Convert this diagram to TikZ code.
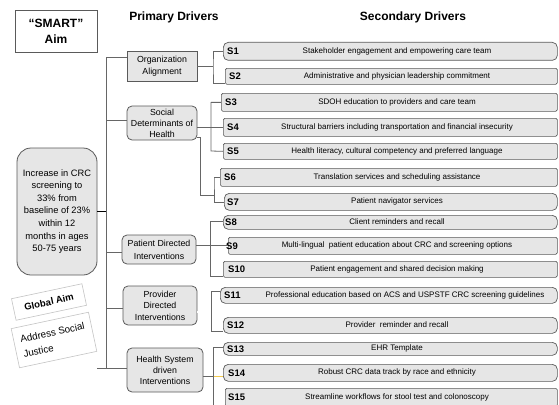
\documentclass[tikz,border=0pt]{standalone}
\usepackage{fontspec}
\setmainfont{Liberation Sans}
\definecolor{boxfill}{HTML}{E6E6E6}
\definecolor{boxline}{HTML}{5A5A5A}
\definecolor{conncol}{HTML}{666666}
\definecolor{lightframe}{HTML}{C4C4C4}
\definecolor{hilite}{HTML}{F2C94C}
\newcommand{\fsz}[2]{\fontsize{#1}{#2}\selectfont}
\newcommand{\secbox}[9]{%
  \pgfmathsetmacro{\sbW}{557-#2}%
  \pgfmathsetmacro{\sbH}{#4-#3}%
  \node[sbox,#7,minimum width=\sbW pt,minimum height=\sbH pt,anchor=north west] (#1) at (#2,#3) {};
  \node[slab] (#1l) at ([xshift=#9pt]#1.west) {#5};
  \node[stxt] (#1t) at (#8,{(#3+#4)/2}) {#6};
}
\begin{document}
\begin{tikzpicture}[x=1pt,y=-1pt,
  conn/.style={draw=conncol, line width=0.8pt},
  pbox/.style={draw=boxline, fill=boxfill, line width=0.8pt, align=center, inner sep=0pt, font=\fsz{8.8}{12.5}},
  sbox/.style={draw=boxline, fill=boxfill, line width=0.7pt, inner sep=0pt},
  rnd/.style={rounded corners=5pt},
  sq/.style={rounded corners=1.5pt},
  slab/.style={font=\bfseries\fsz{9.5}{11}, anchor=west, inner sep=0pt},
  stxt/.style={font=\fsz{8}{10}, inner sep=0pt},
  hdr/.style={font=\bfseries\fsz{12}{14}, inner sep=0pt},
  tilted/.style={draw=lightframe, line width=0.6pt, fill=white, rotate=12},
]
\clip (0,0) rectangle (559,404);
\fill[white] (0,0) rectangle (559,404);

% headers
\node[draw=boxline, line width=0.7pt, minimum width=82pt, minimum height=42pt, align=center, font=\bfseries\fsz{12}{16}] (smart) at (56,31) {“SMART”\\Aim};
\node[hdr] (ph) at (174,17) {Primary Drivers};
\node[hdr] (sh) at (413,17) {Secondary Drivers};

% aim
\node[pbox, rounded corners=14pt, minimum width=80pt, minimum height=127pt, font=\fsz{9.3}{12.6}] (aim) at (57,211.5) {Increase in CRC\\screening to\\33\% from\\baseline of 23\%\\within 12\\months in ages\\50-75 years};

\node[tilted, minimum width=72pt, minimum height=22pt, font=\bfseries\fsz{9.5}{11}] (ga) at (49,302) {Global Aim};
\node[tilted, minimum width=79pt, minimum height=40pt, align=left, font=\fsz{9.8}{15}] (asj) at (54,340) {Address Social\\Justice};

% primary drivers
\node[pbox, minimum width=70pt, minimum height=30pt] (org) at (162,66) {Organization\\Alignment};
\node[pbox, rounded corners=5pt, minimum width=70pt, minimum height=34pt, font=\fsz{8.8}{11}] (sdoh) at (162,123) {Social\\Determinants of\\Health};
\node[pbox, rounded corners=5pt, minimum width=74pt, minimum height=29pt, font=\fsz{8.8}{13}] (pat) at (159,249.5) {Patient Directed\\Interventions};
\node[pbox, rounded corners=5pt, minimum width=74pt, minimum height=39pt, font=\fsz{8.8}{11.5}] (prov) at (160,305.5) {Provider\\Directed\\Interventions};
\node[pbox, rounded corners=5pt, minimum width=76pt, minimum height=44pt, font=\fsz{8.8}{11}] (hs) at (165,370) {Health System\\driven\\Interventions};

% secondary drivers
\secbox{S1}{223}{42}{60}{S1}{Stakeholder engagement and empowering care team}{rnd}{397}{4}
\secbox{S2}{225}{68}{84}{S2}{Administrative and physician leadership commitment}{sq}{397}{4}
\secbox{S3}{221}{93}{111}{S3}{SDOH education to providers and care team}{sq}{397}{4}
\secbox{S4}{223}{118}{136}{S4}{Structural barriers including transportation and financial insecurity}{sq}{397}{4}
\secbox{S5}{223}{143}{159}{S5}{Health literacy, cultural competency and preferred language}{sq}{397}{4}
\secbox{S6}{220}{168}{186}{S6}{Translation services and scheduling assistance}{sq}{397}{4}
\secbox{S7}{224}{193}{210}{S7}{Patient navigator services}{rnd}{397}{3}
\secbox{S8}{223}{215}{229}{S8}{Client reminders and recall}{rnd}{397}{2}
\secbox{S9}{228}{237}{254}{S9}{Multi-lingual\ \ patient education about CRC and screening options}{sq}{397}{-2}
\secbox{S10}{223}{261}{277}{S10}{Patient engagement and shared decision making}{sq}{397}{5}
\secbox{S11}{220}{287}{303}{S11}{Professional education based on ACS and USPSTF CRC screening guidelines}{rnd}{405}{4}
\secbox{S12}{223}{317}{333}{S12}{Provider\ \ reminder and recall}{rnd}{397}{4}
\secbox{S13}{223}{342}{355}{S13}{EHR Template}{rnd}{397}{4}
\secbox{S14}{223}{364}{381}{S14}{Robust CRC data track by race and ethnicity}{rnd}{397}{5}
\secbox{S15}{225}{388}{406}{S15}{Streamline workflows for stool test and colonoscopy}{sq}{397}{3}

% trunk
\coordinate (t1) at (106,57);
\coordinate (t2) at (106,368);
\coordinate (t3) at (106,120);
\coordinate (t4) at (106,252);
\coordinate (t5) at (106,308);
\draw[conn] (org.west |- t1) -- (t1) -- (t2);
\draw[conn] (aim.east |- t2) -- (hs.west |- t2);
\draw[conn] (t3) -- (sdoh.west |- t3);
\draw[conn] (t4) -- (pat.west |- t4);
\draw[conn] (t5) -- (prov.west |- t5);
\draw[black, line width=1.1pt] (aim.east) -- (aim.east -| t1);

% organization bracket
\coordinate (ob) at (213,66);
\coordinate (ob2) at (213,83);
\draw[conn] (org.east) -- (ob);
\draw[conn] (S1.west) -| (ob) -- (ob2) -- (S2.west |- ob2);

% SDOH brackets
\coordinate (sb1) at (211,102);
\coordinate (sb2) at (211,151);
\draw[conn] (S4.west -| sdoh.east) -- (S4.west);
\draw[conn] (S3.west) -| (sb1) -- (sb2) -- (S5.west);
\coordinate (sc0) at (197,137);
\coordinate (sc1) at (200,137);
\coordinate (sc2) at (200,195);
\coordinate (sc3) at (214,195);
\coordinate (sd1) at (214,177);
\coordinate (sd2) at (214,202);
\draw[conn] (sc0) -- (sc1) -- (sc2) -- (sc3);
\draw[conn] (S6.west) -| (sd1) -- (sd2) -- (S7.west |- sd2);

% patient bracket
\coordinate (pb1) at (210,221);
\coordinate (pb2) at (210,276);
\draw[conn] (S9.west -| pat.east) -- (S9.west);
\draw[conn] (S8.west |- pb1) -- (pb1) -- (pb2) -- (S10.west |- pb2);

% provider bracket
\coordinate (vb0) at (211,312);
\coordinate (vb1) at (211,291);
\coordinate (vb2) at (211,331);
\draw[conn, line width=0.6pt, double=white, double distance=1.4pt] (prov.east |- vb0) -- (vb0);
\draw[conn] (S11.west |- vb1) -- (vb1) -- (vb2) -- (S12.west |- vb2);

% health system bracket
\coordinate (hb0) at (213,376);
\coordinate (hb1) at (213,347);
\coordinate (hb2) at (213,410);
\draw[conn] (hs.east |- hb0) -- (hb0);
\draw[hilite, line width=0.8pt] (hb0) -- (S14.west |- hb0);
\draw[conn] (S13.west |- hb1) -- (hb1) -- (hb2);
\end{tikzpicture}
\end{document}
